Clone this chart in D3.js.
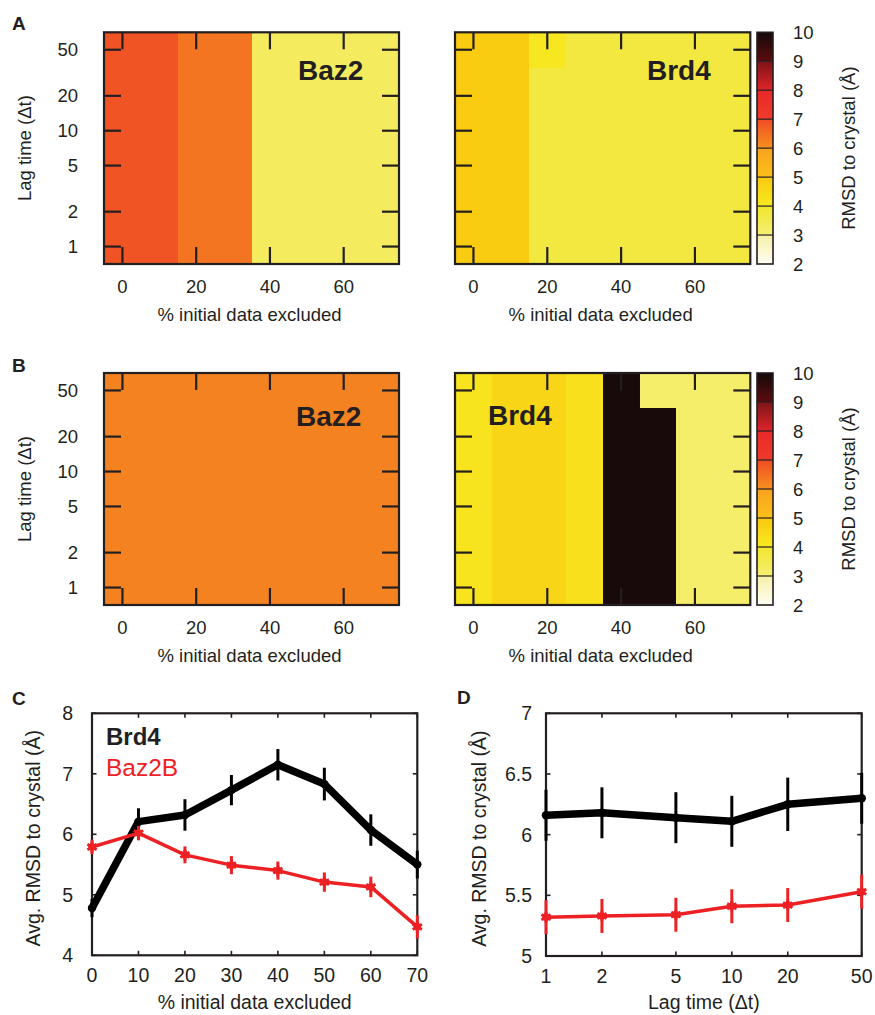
<!DOCTYPE html>
<html><head><meta charset="utf-8">
<script src="https://cdn.jsdelivr.net/npm/d3@7"></script>
<style>
body{margin:0;background:#fff}
svg{display:block}
</style>
</head><body>
<svg id="c" width="875" height="1015"></svg>
<script>
// ---------------- DATA ----------------
const lagTimes = [1, 2, 5, 10, 20, 50];
const excluded = [0, 10, 20, 30, 40, 50, 60, 70];

// heatmap values: rows = lag times (1 .. 50), cols = % excluded (0 .. 70)
const heatA_Baz2 = [
  [6.9, 6.9, 6.4, 6.4, 3.3, 3.3, 3.3, 3.3],
  [6.9, 6.9, 6.4, 6.4, 3.3, 3.3, 3.3, 3.3],
  [6.9, 6.9, 6.4, 6.4, 3.3, 3.3, 3.3, 3.3],
  [6.9, 6.9, 6.4, 6.4, 3.3, 3.3, 3.3, 3.3],
  [6.9, 6.9, 6.4, 6.4, 3.3, 3.3, 3.3, 3.3],
  [6.9, 6.9, 6.4, 6.4, 3.3, 3.3, 3.3, 3.3]
];
const heatA_Brd4 = [
  [4.9, 4.9, 3.75, 3.75, 3.75, 3.75, 3.75, 3.75],
  [4.9, 4.9, 3.75, 3.75, 3.75, 3.75, 3.75, 3.75],
  [4.9, 4.9, 3.75, 3.75, 3.75, 3.75, 3.75, 3.75],
  [4.9, 4.9, 3.75, 3.75, 3.75, 3.75, 3.75, 3.75],
  [4.9, 4.9, 3.75, 3.75, 3.75, 3.75, 3.75, 3.75],
  [4.9, 4.9, 4.1, 3.75, 3.75, 3.75, 3.75, 3.75]
];
const heatB_Baz2 = [
  [6.2, 6.2, 6.2, 6.2, 6.2, 6.2, 6.2, 6.2],
  [6.2, 6.2, 6.2, 6.2, 6.2, 6.2, 6.2, 6.2],
  [6.2, 6.2, 6.2, 6.2, 6.2, 6.2, 6.2, 6.2],
  [6.2, 6.2, 6.2, 6.2, 6.2, 6.2, 6.2, 6.2],
  [6.2, 6.2, 6.2, 6.2, 6.2, 6.2, 6.2, 6.2],
  [6.2, 6.2, 6.2, 6.2, 6.2, 6.2, 6.2, 6.2]
];
const heatB_Brd4 = [
  [4.2, 4.6, 4.6, 4.3, 9.95, 9.95, 3.1, 3.1],
  [4.2, 4.6, 4.6, 4.3, 9.95, 9.95, 3.1, 3.1],
  [4.2, 4.6, 4.6, 4.3, 9.95, 9.95, 3.1, 3.1],
  [4.2, 4.6, 4.6, 4.3, 9.95, 9.95, 3.1, 3.1],
  [4.2, 4.6, 4.6, 4.3, 9.95, 9.95, 3.1, 3.1],
  [4.2, 4.6, 4.6, 4.3, 9.95, 3.1, 3.1, 3.1]
];

const heatXTicks = [0, 20, 40, 60];
const heatYTicks = [1, 2, 5, 10, 20, 50];
const colorbarTicks = [2, 3, 4, 5, 6, 7, 8, 9, 10];

// colour palette: one band per unit, low -> high colour
const paletteBandStart = [2, 3, 4, 5, 6, 7, 8, 9];
const paletteLow  = ["#fffef4", "#f5ef72", "#f7ea22", "#fcc01a", "#f6901f", "#ee3c2a", "#de242a", "#5c0c0e"];
const paletteHigh = ["#f6f0a6", "#f1e62e", "#f9c80f", "#f8a21e", "#ef4c24", "#e8282a", "#7c1418", "#140a0a"];

// panel C
const cExcluded = [0, 10, 20, 30, 40, 50, 60, 70];
const cBrd4     = [4.78, 6.21, 6.32, 6.73, 7.15, 6.83, 6.07, 5.50];
const cBrd4Err  = [0.15, 0.22, 0.26, 0.25, 0.26, 0.27, 0.26, 0.23];
const cBaz2B    = [5.79, 6.02, 5.66, 5.49, 5.40, 5.21, 5.13, 4.47];
const cBaz2BErr = [0.12, 0.12, 0.14, 0.15, 0.15, 0.16, 0.17, 0.19];
const cXTicks = [0, 10, 20, 30, 40, 50, 60, 70];
const cYTicks = [4, 5, 6, 7, 8];

// panel D
const dLag      = [1, 2, 5, 10, 20, 50];
const dBrd4     = [6.16, 6.18, 6.14, 6.11, 6.25, 6.30];
const dBrd4Err  = [0.21, 0.21, 0.21, 0.21, 0.22, 0.21];
const dBaz2B    = [5.32, 5.33, 5.34, 5.41, 5.42, 5.53];
const dBaz2BErr = [0.14, 0.14, 0.14, 0.14, 0.14, 0.14];
const dXTicks = [1, 2, 5, 10, 20, 50];
const dYTicks = [5, 5.5, 6, 6.5, 7];

// ---------------- DRAWING ----------------
const INK = "#231f20";
const FONT = '"Liberation Sans", Arial, Helvetica, sans-serif';
const svg = d3.select("#c");
const defs = svg.append("defs");

function colorOf(v) {
  let i = paletteBandStart.length - 1;
  for (let k = 0; k < paletteBandStart.length; k++) {
    if (v < paletteBandStart[k] + 1) { i = k; break; }
  }
  const t = Math.max(0, Math.min(1, v - paletteBandStart[i]));
  return d3.interpolateRgb(paletteLow[i], paletteHigh[i])(t);
}

function txt(g, x, y, s, fs, anchor, bold, color) {
  return g.append("text").attr("x", x).attr("y", y).attr("font-size", fs)
    .attr("font-family", FONT).attr("fill", color || INK)
    .attr("font-weight", bold ? "bold" : "normal")
    .attr("text-anchor", anchor || "start").text(s);
}

// inward ticks on all four sides
function frameTicks(g, x, y, xTicks, yTicks, len, sw) {
  const [x0, x1] = x.range();
  const [y1, y0] = y.range();
  xTicks.forEach(v => {
    const px = x(v);
    g.append("line").attr("x1", px).attr("x2", px).attr("y1", y1).attr("y2", y1 - len)
      .attr("stroke", INK).attr("stroke-width", sw);
    g.append("line").attr("x1", px).attr("x2", px).attr("y1", y0).attr("y2", y0 + len)
      .attr("stroke", INK).attr("stroke-width", sw);
  });
  yTicks.forEach(v => {
    const py = y(v);
    g.append("line").attr("x1", x0).attr("x2", x0 + len).attr("y1", py).attr("y2", py)
      .attr("stroke", INK).attr("stroke-width", sw);
    g.append("line").attr("x1", x1).attr("x2", x1 - len).attr("y1", py).attr("y2", py)
      .attr("stroke", INK).attr("stroke-width", sw);
  });
}

function heatmap(opt) {
  const {x0, x1, y0, y1, data, label, lx, ly, showY} = opt;
  const g = svg.append("g");
  const x = d3.scaleLinear().domain([-5, 75]).range([x0, x1]);
  const y = d3.scaleLog().domain([Math.SQRT1_2, 50 * Math.SQRT2]).range([y1, y0]);
  const cells = [];
  data.forEach((row, ri) => row.forEach((v, ci) => {
    const lo = ri === 0 ? y.domain()[0] : (lagTimes[ri - 1] + lagTimes[ri]) / 2;
    const hi = ri === lagTimes.length - 1 ? y.domain()[1] : (lagTimes[ri] + lagTimes[ri + 1]) / 2;
    cells.push({c: excluded[ci], lo, hi, v});
  }));
  const cg = g.append("g");
  cells.forEach(d => {
    const xa = Math.round(x(d.c - 5)), xb = Math.round(x(d.c + 5));
    const ya = Math.round(y(d.hi)), yb = Math.round(y(d.lo));
    cg.append("rect").attr("x", xa).attr("y", ya).attr("width", xb - xa).attr("height", yb - ya)
      .attr("fill", colorOf(d.v));
  });

  const tg = g.append("g");
  frameTicks(tg, x, y, heatXTicks, heatYTicks, 17, 2.2);

  g.append("rect").attr("x", x0).attr("y", y0).attr("width", x1 - x0).attr("height", y1 - y0)
    .attr("fill", "none").attr("stroke", INK).attr("stroke-width", 2.2);

  heatXTicks.forEach(v => txt(g, x(v), y1 + 29, String(v), 18.5, "middle"));
  if (showY) heatYTicks.forEach(v => txt(g, x0 - 26, y(v) + 6.5, String(v), 18.5, "end"));

  txt(g, lx, ly, label, 28, "start", true);
  txt(g, (x0 + x1) / 2 - 2, y1 + 57, "% initial data excluded", 18.5, "middle");
  if (showY) {
    txt(g, 0, 0, "Lag time (\u0394t)", 18.5, "middle")
      .attr("transform", `translate(31,${(y0 + y1) / 2}) rotate(-90)`);
  }
}

function colorbar(x0, y0, y1, idx) {
  const w = 16;
  const s = d3.scaleLinear().domain([2, 10]).range([y1, y0]);
  const g = svg.append("g");
  paletteBandStart.forEach((b, i) => {
    const id = `grad${idx}_${i}`;
    const gr = defs.append("linearGradient").attr("id", id)
      .attr("x1", 0).attr("y1", 1).attr("x2", 0).attr("y2", 0);
    gr.append("stop").attr("offset", 0).attr("stop-color", paletteLow[i]);
    gr.append("stop").attr("offset", 1).attr("stop-color", paletteHigh[i]);
    g.append("rect").attr("x", x0).attr("y", s(b + 1)).attr("width", w)
      .attr("height", s(b) - s(b + 1)).attr("fill", `url(#${id})`);
  });
  paletteBandStart.slice(1).forEach(b => {
    g.append("line").attr("x1", x0).attr("x2", x0 + w).attr("y1", s(b)).attr("y2", s(b))
      .attr("stroke", INK).attr("stroke-width", 1.2);
  });
  g.append("rect").attr("x", x0).attr("y", y0).attr("width", w).attr("height", y1 - y0)
    .attr("fill", "none").attr("stroke", INK).attr("stroke-width", 1.6);
  colorbarTicks.forEach(v => txt(g, x0 + w + 20, s(v) + 6.5, String(v), 18.5, "start"));
  txt(g, 0, 0, "RMSD to crystal (\u00c5)", 18.5, "middle")
    .attr("transform", `translate(855,${(y0 + y1) / 2}) rotate(-90)`);
}

heatmap({x0: 104, x1: 399, y0: 32.3, y1: 264, data: heatA_Baz2, label: "Baz2", lx: 298, ly: 80, showY: true});
heatmap({x0: 455, x1: 750.3, y0: 32.3, y1: 264, data: heatA_Brd4, label: "Brd4", lx: 647, ly: 80, showY: false});
colorbar(757, 32.3, 264, 0);
heatmap({x0: 104, x1: 399, y0: 373, y1: 605, data: heatB_Baz2, label: "Baz2", lx: 296, ly: 426, showY: true});
heatmap({x0: 455, x1: 750.3, y0: 373, y1: 605, data: heatB_Brd4, label: "Brd4", lx: 488, ly: 425, showY: false});
colorbar(757, 373, 605, 1);

// ---------- line panels ----------
function linePanel(opt) {
  const {x, y, xTicks, yTicks, yFmt, series, xTitle, yTitleX, ypad} = opt;
  const [x0, x1] = x.range();
  const [y1, y0] = y.range();
  const g = svg.append("g");
  const tg = g.append("g");
  frameTicks(tg, x, y, xTicks, yTicks, 4.5, 1.6);
  g.append("rect").attr("x", x0).attr("y", y0).attr("width", x1 - x0).attr("height", y1 - y0)
    .attr("fill", "none").attr("stroke", INK).attr("stroke-width", 2.2);
  xTicks.forEach(v => txt(g, x(v), y1 + 27, String(v), 19.5, "middle"));
  yTicks.forEach(v => txt(g, x0 - ypad, y(v) + 7, yFmt(v), 19.5, "end"));

  series.forEach(s => {
    const pts = s.xs.map((xv, i) => ({x: xv, y: s.ys[i], e: s.es[i]}));
    g.append("path").datum(pts)
      .attr("d", d3.line().x(d => x(d.x)).y(d => y(d.y)))
      .attr("fill", "none").attr("stroke", s.color).attr("stroke-width", s.lw)
      .attr("stroke-linejoin", "round").attr("stroke-linecap", "round");
    pts.forEach(d => {
      g.append("line").attr("x1", x(d.x)).attr("x2", x(d.x))
        .attr("y1", y(d.y - d.e)).attr("y2", y(d.y + d.e))
        .attr("stroke", s.color).attr("stroke-width", 3);
      if (s.marker) {
        g.append("path").attr("transform", `translate(${x(d.x)},${y(d.y)})`)
          .attr("d", d3.symbol(d3.symbolAsterisk, 80)())
          .attr("stroke", s.color).attr("stroke-width", 2.8).attr("fill", "none");
        g.append("circle").attr("cx", x(d.x)).attr("cy", y(d.y)).attr("r", 3.8).attr("fill", s.color);
      } else {
        g.append("circle").attr("cx", x(d.x)).attr("cy", y(d.y)).attr("r", 4.2).attr("fill", s.color);
      }
    });
  });

  txt(g, (x0 + x1) / 2, 1009, xTitle, 19.5, "middle");
  txt(g, 0, 0, "Avg. RMSD to crystal (\u00c5)", 19.5, "middle")
    .attr("transform", `translate(${yTitleX},${(y0 + y1) / 2 + 4}) rotate(-90)`);
  return g;
}

const xC = d3.scaleLinear().domain([0, 70]).range([92, 417.3]);
const yC = d3.scaleLinear().domain([4, 8]).range([955.3, 713.3]);
const gC = linePanel({
  x: xC, y: yC, xTicks: cXTicks, yTicks: cYTicks, yFmt: d3.format("d"), ypad: 19,
  xTitle: "% initial data excluded", yTitleX: 40,
  series: [
    {xs: cExcluded, ys: cBrd4, es: cBrd4Err, color: "#000000", lw: 7.5, marker: false},
    {xs: cExcluded, ys: cBaz2B, es: cBaz2BErr, color: "#ed2024", lw: 3.5, marker: true}
  ]
});
txt(gC, 106, 745, "Brd4", 24, "start", true);
txt(gC, 106, 776, "Baz2B", 24.5, "start", false, "#ed2024");

const xD = d3.scaleLog().domain([1, 50]).range([546, 861.7]);
const yD = d3.scaleLinear().domain([5, 7]).range([956, 713.3]);
linePanel({
  x: xD, y: yD, xTicks: dXTicks, yTicks: dYTicks, yFmt: d => String(d), ypad: 14,
  xTitle: "Lag time (\u0394t)", yTitleX: 486,
  series: [
    {xs: dLag, ys: dBrd4, es: dBrd4Err, color: "#000000", lw: 7.5, marker: false},
    {xs: dLag, ys: dBaz2B, es: dBaz2BErr, color: "#ed2024", lw: 3.5, marker: true}
  ]
});

// panel letters
[["A", 12, 30], ["B", 12, 372], ["C", 12, 705], ["D", 457, 704]].forEach(([t, x, y]) => {
  txt(svg, x, y, t, 19, "start", true);
});
</script>
</body></html>
